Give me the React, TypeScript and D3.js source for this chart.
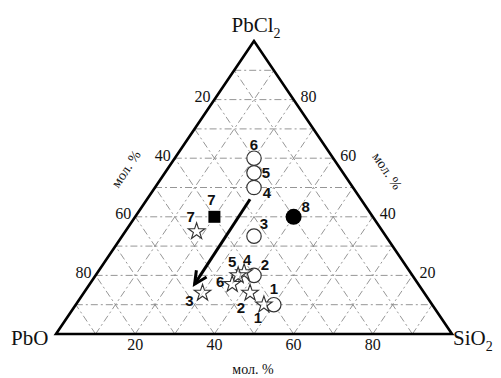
import React from "react";
import * as d3 from "d3";

const W = 501;
const H = 378;

// ternary components (percent): PbO (bottom-left), SiO2 (bottom-right), PbCl2 (top)
const gridSteps = [10, 20, 30, 40, 50, 60, 70, 80, 90];
const tickValues = [20, 40, 60, 80];

const circleIds = ["1", "2", "3", "4", "5", "6"];
const circlePbO = [40, 40, 33.3, 25, 22.5, 20];
const circleSiO2 = [50, 40, 33.3, 25, 22.5, 20];
const circlePbCl2 = [10, 20, 33.4, 50, 55, 60];
const circleLabelOffsets = [[0, -16], [11, -11], [10, -13], [13, 5], [12, 0], [0, -14]];

const starIds = ["1", "2", "3", "4", "5", "6", "7"];
const starPbO = [42.5, 44, 56, 42, 44, 47, 47];
const starSiO2 = [47.5, 42, 30, 37, 36, 36, 18];
const starPbCl2 = [10, 14, 14, 21, 20, 17, 35];
const starLabelOffsets = [[-6, 13], [-9, 15], [-13, 8], [3, -13], [-6, -14], [-12, -3], [-6, -15]];

const squareIds = ["7"];
const squarePbO = [40];
const squareSiO2 = [20];
const squarePbCl2 = [40];
const squareLabelOffsets = [[-3, -17]];

const filledIds = ["8"];
const filledPbO = [20];
const filledSiO2 = [40];
const filledPbCl2 = [40];
const filledLabelOffsets = [[12, -10]];

const arrowFrom = [28, 26, 46]; // PbO, SiO2, PbCl2
const arrowTo = [56.5, 26.5, 17];

const xScale = d3.scaleLinear().domain([0, 1]).range([56, 452]);
const yScale = d3.scaleLinear().domain([0, 1]).range([334, 41]);

function proj(pbo: number, sio2: number, pbcl2: number): [number, number] {
  const t = pbo + sio2 + pbcl2;
  const s = sio2 / t;
  const c = pbcl2 / t;
  return [xScale(s + c / 2), yScale(c)];
}

const serif = "'Liberation Serif', 'Times New Roman', serif";
const narrow = "'Liberation Sans Narrow', 'Liberation Sans', Arial, sans-serif";

export default function App() {
  const A = proj(0, 0, 100);
  const L = proj(100, 0, 0);
  const R = proj(0, 100, 0);

  const gridLines: [number, number, number, number][] = [];
  gridSteps.forEach((k) => {
    const a1 = proj(100 - k, 0, k), a2 = proj(0, 100 - k, k);
    gridLines.push([a1[0], a1[1], a2[0], a2[1]]);
    const b1 = proj(100 - k, k, 0), b2 = proj(0, k, 100 - k);
    gridLines.push([b1[0], b1[1], b2[0], b2[1]]);
    const c1 = proj(k, 100 - k, 0), c2 = proj(k, 0, 100 - k);
    gridLines.push([c1[0], c1[1], c2[0], c2[1]]);
  });

  const star = d3.symbol().type(d3.symbolStar).size(85)();

  const p0 = proj(arrowFrom[0], arrowFrom[1], arrowFrom[2]);
  const p1 = proj(arrowTo[0], arrowTo[1], arrowTo[2]);
  const ang = Math.atan2(p1[1] - p0[1], p1[0] - p0[0]);
  const hl = 14;
  const h1: [number, number] = [p1[0] - hl * Math.cos(ang - 0.45), p1[1] - hl * Math.sin(ang - 0.45)];
  const h2: [number, number] = [p1[0] - hl * Math.cos(ang + 0.45), p1[1] - hl * Math.sin(ang + 0.45)];

  const labelStyle = { fontFamily: narrow, fontSize: 15, fontWeight: 600, fill: "#111" } as const;
  const tickStyle = { fontFamily: serif, fontSize: 16, fill: "#111" } as const;

  return (
    <svg width={W} height={H} style={{ position: "absolute", left: 0, top: 0, background: "#fff" }}>
      <rect x={0} y={0} width={W} height={H} fill="#fff" />
      {gridLines.map((g, i) => (
        <line key={i} x1={g[0]} y1={g[1]} x2={g[2]} y2={g[3]} stroke="#8a8a8a" strokeWidth={0.9} strokeDasharray="7,3,2,3" />
      ))}
      <polygon points={[A, L, R].map((p) => p.join(",")).join(" ")} fill="none" stroke="#000" strokeWidth={2.6} strokeLinejoin="miter" />

      {/* vertex titles */}
      <text x={256} y={32} textAnchor="middle" fontFamily={serif} fontSize={21} fill="#111">
        PbCl<tspan fontSize={14} dy={6}>2</tspan>
      </text>
      <text x={11} y={345} fontFamily={serif} fontSize={21} fill="#111">PbO</text>
      <text x={453} y={345} fontFamily={serif} fontSize={21} fill="#111">
        SiO<tspan fontSize={14} dy={6}>2</tspan>
      </text>

      {/* ticks */}
      {tickValues.map((v) => {
        const p = proj(100 - v, v, 0);
        return (
          <text key={"b" + v} x={p[0]} y={344} textAnchor="middle" dominantBaseline="central" {...tickStyle}>
            {v}
          </text>
        );
      })}
      {tickValues.map((v) => {
        const p = proj(v, 0, 100 - v);
        return (
          <text key={"l" + v} x={p[0] - 4} y={p[1] - 3} textAnchor="end" dominantBaseline="central" {...tickStyle}>
            {v}
          </text>
        );
      })}
      {tickValues.map((v) => {
        const p = proj(0, 100 - v, v);
        return (
          <text key={"r" + v} x={p[0] + 7} y={p[1] - 3} textAnchor="start" dominantBaseline="central" {...tickStyle}>
            {v}
          </text>
        );
      })}

      {/* axis titles */}
      <text x={253} y={369} textAnchor="middle" dominantBaseline="central" fontFamily={serif} fontSize={14} fill="#111">мол. %</text>
      <text transform="translate(126,169) rotate(-56)" textAnchor="middle" dominantBaseline="central" fontFamily={serif} fontSize={14} fill="#111">мол. %</text>
      <text transform="translate(387,171) rotate(56)" textAnchor="middle" dominantBaseline="central" fontFamily={serif} fontSize={14} fill="#111">мол. %</text>

      {/* arrow */}
      <line x1={p0[0]} y1={p0[1]} x2={p1[0]} y2={p1[1]} stroke="#000" strokeWidth={3} />
      <polyline points={[h1, p1, h2].map((p) => p.join(",")).join(" ")} fill="none" stroke="#000" strokeWidth={3} strokeLinejoin="miter" />

      {/* open circles */}
      {circleIds.map((id, i) => {
        const p = proj(circlePbO[i], circleSiO2[i], circlePbCl2[i]);
        const o = circleLabelOffsets[i];
        return (
          <g key={"c" + id}>
            <circle cx={p[0]} cy={p[1]} r={7.2} fill="#fff" stroke="#333" strokeWidth={1.2} />
            <text x={p[0] + o[0]} y={p[1] + o[1]} textAnchor="middle" dominantBaseline="central" {...labelStyle}>{id}</text>
          </g>
        );
      })}

      {/* stars */}
      {starIds.map((id, i) => {
        const p = proj(starPbO[i], starSiO2[i], starPbCl2[i]);
        const o = starLabelOffsets[i];
        return (
          <g key={"s" + id}>
            <path d={star || ""} transform={`translate(${p[0]},${p[1]})`} fill="#fff" fillOpacity={0.6} stroke="#333" strokeWidth={1.1} />
            <text x={p[0] + o[0]} y={p[1] + o[1]} textAnchor="middle" dominantBaseline="central" {...labelStyle}>{id}</text>
          </g>
        );
      })}

      {/* filled square */}
      {squareIds.map((id, i) => {
        const p = proj(squarePbO[i], squareSiO2[i], squarePbCl2[i]);
        const o = squareLabelOffsets[i];
        return (
          <g key={"q" + id}>
            <rect x={p[0] - 6} y={p[1] - 6} width={12} height={12} fill="#000" />
            <text x={p[0] + o[0]} y={p[1] + o[1]} textAnchor="middle" dominantBaseline="central" {...labelStyle}>{id}</text>
          </g>
        );
      })}

      {/* filled circle */}
      {filledIds.map((id, i) => {
        const p = proj(filledPbO[i], filledSiO2[i], filledPbCl2[i]);
        const o = filledLabelOffsets[i];
        return (
          <g key={"f" + id}>
            <circle cx={p[0]} cy={p[1]} r={8} fill="#000" />
            <text x={p[0] + o[0]} y={p[1] + o[1]} textAnchor="middle" dominantBaseline="central" {...labelStyle}>{id}</text>
          </g>
        );
      })}
    </svg>
  );
}
